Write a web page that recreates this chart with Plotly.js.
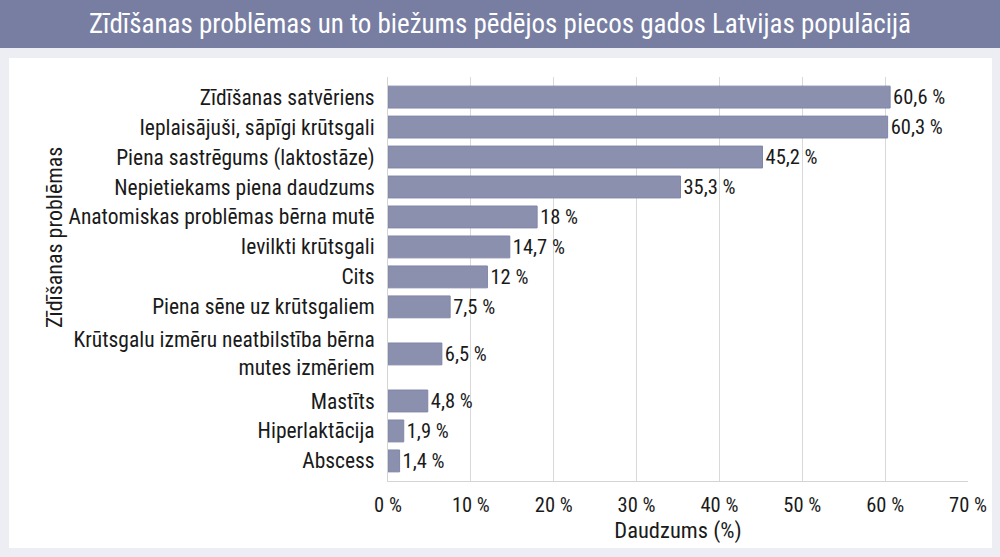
<!DOCTYPE html>
<html>
<head>
<meta charset="utf-8">
<script src="https://cdn.plot.ly/plotly-3.0.1.min.js"></script>
<style>html,body{margin:0;padding:0;background:#eceef4;}#chart{width:1000px;height:557px;}</style>
</head>
<body>
<div id="chart"></div>
<script>
// ---- data ----
var problems = [
  "Zīdīšanas satvēriens",
  "Ieplaisājuši, sāpīgi krūtsgali",
  "Piena sastrēgums (laktostāze)",
  "Nepietiekams piena daudzums",
  "Anatomiskas problēmas bērna mutē",
  "Ievilkti krūtsgali",
  "Cits",
  "Piena sēne uz krūtsgaliem",
  "Krūtsgalu izmēru neatbilstība bērna<br>mutes izmēriem",
  "Mastīts",
  "Hiperlaktācija",
  "Abscess"
];
var shares = [60.6, 60.3, 45.2, 35.3, 18, 14.7, 12, 7.5, 6.5, 4.8, 1.9, 1.4];
var xTickValues = [0, 10, 20, 30, 40, 50, 60, 70];
var titleText = "Zīdīšanas problēmas un to biežums pēdējos piecos gados Latvijas populācijā";
var xTitle = "Daudzums (%)";
var yTitle = "Zīdīšanas problēmas";

// ---- layout helpers ----
var FONT = '"Liberation Sans Narrow", "Roboto Condensed", "DejaVu Sans Condensed", Roboto, sans-serif';
// row positions: multi-line labels get extra room
var pos = [], p = 0;
for (var i = 0; i < problems.length; i++) {
  var lines = problems[i].split('<br>').length;
  if (i > 0) {
    var prevLines = problems[i-1].split('<br>').length;
    p += 1 + 0.57 * (lines - 1) + 0.57 * (prevLines - 1);
  }
  pos.push(p);
}
var labels = shares.map(function(v){ return String(v).replace('.', ',') + ' %'; });

// pixel geometry of plot area
var W = 1000, H = 557;
var L = 388, R = 968, T = 77, B = 481;
function px(x){ return (x - L) / (R - L); }
function py(y){ return (B - y) / (B - T); }

var trace = {
  type: 'bar',
  orientation: 'h',
  x: shares,
  y: pos,
  width: 0.73,
  text: labels,
  textposition: 'outside',
  constraintext: 'none',
  cliponaxis: false,
  textfont: {family: FONT, size: 20.5, color: '#1a1a1a'},
  marker: {color: '#8b90af', line: {color: '#8086a8', width: 1}},
  hoverinfo: 'skip'
};

var layout = {
  width: W, height: H,
  margin: {l: L, r: W - R, t: T, b: H - B, pad: 0},
  paper_bgcolor: '#eceef4',
  plot_bgcolor: 'rgba(0,0,0,0)',
  font: {family: FONT, color: '#1a1a1a'},
  showlegend: false,
  title: {
    text: titleText,
    font: {family: FONT, size: 27, color: '#ffffff'},
    x: 0.5, xanchor: 'center', xref: 'container',
    y: 1 - 24 / H, yanchor: 'middle', yref: 'container'
  },
  xaxis: {
    range: [0, 70],
    tickvals: xTickValues,
    ticktext: xTickValues.map(function(v){ return v + ' %'; }),
    showgrid: true, gridcolor: '#d9d9d9', gridwidth: 1,
    zeroline: false,
    showline: true, linecolor: '#d4d4d4', linewidth: 1,
    ticks: '',
    ticklabelstandoff: 5,
    tickfont: {family: FONT, size: 20.5, color: '#1a1a1a'},
    title: {text: xTitle, font: {family: FONT, size: 22.5, color: '#1a1a1a'}, standoff: 4},
    automargin: false,
    fixedrange: true
  },
  yaxis: {
    range: [pos[pos.length-1] + 0.67, -0.67],
    tickvals: pos,
    ticktext: problems,
    showgrid: false, zeroline: false,
    showline: true, linecolor: '#d4d4d4', linewidth: 1,
    ticks: '',
    ticklabelstandoff: 8,
    tickfont: {family: FONT, size: 21.5, color: '#1a1a1a'},
    automargin: false,
    fixedrange: true
  },
  annotations: [
    {text: yTitle, textangle: -90, showarrow: false,
     xref: 'paper', yref: 'paper', x: px(54), y: py(238),
     xanchor: 'center', yanchor: 'middle',
     font: {family: FONT, size: 22, color: '#1a1a1a'}}
  ],
  shapes: [
    {type: 'rect', xref: 'paper', yref: 'paper', layer: 'below',
     x0: px(0), x1: px(W), y0: py(0), y1: py(48),
     fillcolor: '#777ea2', line: {width: 0}},
    {type: 'rect', xref: 'paper', yref: 'paper', layer: 'below',
     x0: px(9), x1: px(992), y0: py(58), y1: py(548),
     fillcolor: '#ffffff', line: {width: 0}}
  ]
};

Plotly.newPlot('chart', [trace], layout, {displayModeBar: false, staticPlot: true});
</script>
</body>
</html>
